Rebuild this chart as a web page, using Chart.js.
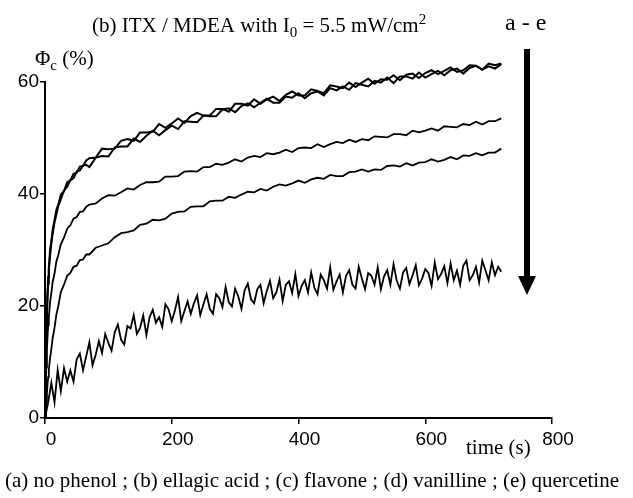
<!DOCTYPE html>
<html>
<head>
<meta charset="utf-8">
<script src="https://cdn.jsdelivr.net/npm/chart.js@4/dist/chart.umd.min.js"></script>
<style>
  html, body { margin: 0; padding: 0; background: #fff; }
  #wrap { width: 633px; height: 498px; position: relative; }
</style>
</head>
<body>
<div id="wrap"><canvas id="phiChart"></canvas></div>
<script>
// time axis (s) for curves a - d (dense at the start, then every 10 s)
const timeMain = [
  0, 1, 2, 3, 4, 5, 6, 8, 10, 12, 15, 18, 21, 25, 30, 35, 40, 45, 50, 55, 60, 65,
  70, 80, 90, 100, 110, 120, 130, 140, 150, 160, 170, 180, 190, 200, 210, 220,
  230, 240, 250, 260, 270, 280, 290, 300, 310, 320, 330, 340, 350, 360, 370, 380,
  390, 400, 410, 420, 430, 440, 450, 460, 470, 480, 490, 500, 510, 520, 530, 540,
  550, 560, 570, 580, 590, 600, 610, 620, 630, 640, 650, 660, 670, 680, 690, 700,
  710, 720
];

// (a) no phenol
const phiA = [
  0, 9, 15, 19.5, 22.5, 25.2, 26.8, 30, 31.6, 33.6, 35.3, 37.2, 38.1, 39.9, 40.5, 42.1, 42.4, 43.6, 43.8, 44.9, 45, 46,
  46.4, 46.5, 48.1, 48, 48.1, 49.5, 49.8, 49.5, 51, 51, 51.1, 52.5, 51.8, 52.6, 53.5, 52.7,
  53.9, 54.5, 54, 54, 55.2, 55.2, 54.7, 56.1, 56.1, 55.8, 56.9, 56.1, 56.9, 57.4, 56.6, 57.7,
  58.3, 57.6, 57.6, 58.7, 58.4, 58, 59.4, 59.2, 58.9, 59.9, 59.1, 59.9, 60.6, 59.7, 60.5, 60.4,
  61.2, 60.3, 61.3, 61.5, 60.7, 61.6, 62.1, 61.4, 62, 62.6, 61.8, 62.1, 63, 62.9, 62.2, 63.3,
  63, 63.3
];

// (b) ellagic acid
const phiB = [
  0, 7.5, 13.5, 18, 21.5, 24, 26.2, 29, 31.2, 32.8, 34.9, 36.4, 37.9, 39.1, 40.6, 41.3, 42.5, 42.8, 44, 44.2, 45.1, 45.2,
  44.8, 46.5, 46.8, 46.7, 48.3, 48.5, 48.5, 49.9, 49.3, 50.4, 51.3, 50.5, 51.4, 52.2, 51.6, 53,
  52.9, 52.8, 54, 53.9, 53.9, 55.1, 55.3, 54.6, 55.7, 56.2, 55.5, 56.3, 57, 56.3, 56.3, 57.4,
  57.2, 58, 57.1, 58, 58.3, 57.6, 58.9, 58.5, 59.2, 58.6, 59.8, 59.5, 59.2, 60.2, 59.9, 60.8,
  59.8, 61, 61, 60.6, 61.7, 60.8, 61.4, 62, 61.2, 62.1, 62.4, 61.5, 62.5, 62.9, 62.2, 62.8,
  62.4, 63.2
];

// (c) flavone
const phiC = [
  0, 5, 9, 12, 14.5, 16.6, 17.9, 20.7, 22.3, 24.2, 25.8, 28, 29.1, 31, 32.2, 33.8, 34.4, 35.6, 35.9, 36.8, 36.9, 37.7,
  38.1, 38.3, 39.2, 39.8, 39.7, 40.3, 41, 40.8, 41.6, 42.1, 42.1, 42.2, 43.1, 43.1, 43.2, 44,
  44.1, 44, 44.8, 44.8, 45.4, 45.2, 45.6, 46.2, 45.8, 46.5, 46.8, 46.6, 47.3, 47.1, 47.4, 47.9,
  47.5, 48.2, 48.3, 48.2, 48.9, 48.4, 48.9, 49.3, 49.1, 49.7, 49.3, 49.8, 49.6, 50.3, 50.2, 50.1,
  50.7, 50.7, 50.5, 51.3, 51, 51.3, 51.7, 51.3, 52.1, 52, 51.9, 52.5, 52.3, 52.9, 52.4, 53,
  53, 53.5
];

// (d) vanilline
const phiD = [
  0, 1.5, 3, 4.5, 6, 7.3, 8.5, 10.7, 12.3, 14.2, 16.1, 18.5, 20, 22.5, 23.8, 25.4, 25.9, 27, 27.2, 28.2, 28.3, 29.2,
  29.2, 30.4, 30.8, 31.2, 32.3, 33, 33.2, 33.5, 34.5, 34.7, 35.4, 35.3, 35.6, 36.5, 36.8, 36.9,
  37.7, 37.8, 37.8, 38.7, 38.8, 38.8, 39.5, 39.3, 39.9, 40.4, 40.3, 40.9, 40.6, 41.3, 41.7, 41.5,
  41.9, 42.4, 42, 42.6, 42.9, 42.7, 43.4, 43.2, 43.2, 43.9, 44, 44.4, 44, 44.4, 44.3, 45,
  45.1, 44.9, 45.5, 45.1, 45.6, 45.7, 46.2, 45.8, 46.1, 46.6, 46.2, 46.9, 46.8, 47.3, 46.9, 47.4,
  47.4, 48.1
];

// time axis (s) for curve e, which is much noisier (every 5 s)
const timeE = [
  0, 5, 10, 15, 20, 25, 30, 35, 40, 45, 50, 55,
  60, 65, 70, 75, 80, 85, 90, 95, 100, 105, 110, 115,
  120, 125, 130, 135, 140, 145, 150, 155, 160, 165, 170, 175,
  180, 185, 190, 195, 200, 205, 210, 215, 220, 225, 230, 235,
  240, 245, 250, 255, 260, 265, 270, 275, 280, 285, 290, 295,
  300, 305, 310, 315, 320, 325, 330, 335, 340, 345, 350, 355,
  360, 365, 370, 375, 380, 385, 390, 395, 400, 405, 410, 415,
  420, 425, 430, 435, 440, 445, 450, 455, 460, 465, 470, 475,
  480, 485, 490, 495, 500, 505, 510, 515, 520, 525, 530, 535,
  540, 545, 550, 555, 560, 565, 570, 575, 580, 585, 590, 595,
  600, 605, 610, 615, 620, 625, 630, 635, 640, 645, 650, 655,
  660, 665, 670, 675, 680, 685, 690, 695, 700, 705, 710, 715,
  720
];

// (e) quercetine
const phiE = [
  0, 2.8, 6.3, 2.8, 8.6, 4.8, 8.9, 6.5, 8.5, 6.5, 10.5, 11.5,
  8.5, 11, 13.5, 9.4, 11.3, 13.7, 11.6, 15, 13.4, 12, 15.3, 16.7,
  14, 13.1, 16.4, 16, 18.4, 15, 16.1, 18.3, 14.8, 18, 19.3, 17,
  18, 16.3, 20.3, 19.4, 17.3, 19.2, 21.6, 17.3, 19.1, 20.8, 18.6, 20.5,
  21.9, 18.4, 20.3, 22.1, 19.5, 18.6, 22.1, 21.4, 19.8, 23.4, 20.7, 19.9,
  23.1, 21.7, 19.5, 22.8, 24, 21.2, 20.5, 23, 23.8, 20.5, 22.7, 24.5,
  21.4, 22.4, 24.7, 20.9, 23.8, 24.4, 22.3, 25.7, 21.8, 23.6, 24.6, 22.4,
  26, 23.3, 22.1, 25.6, 24.6, 23.1, 26.9, 22.9, 24.4, 25.6, 22.4, 25.4,
  26.4, 23.8, 23.1, 27, 24.9, 23, 25.9, 25.4, 23.8, 26.9, 23, 25.3,
  26.4, 23.8, 27.5, 24.5, 23.1, 26, 26.8, 23.9, 25.5, 27.3, 23.7, 24.9,
  26.6, 25.9, 23.6, 27.8, 24.8, 25.7, 27.1, 24.1, 27.6, 24.6, 26.3, 23.8,
  27.2, 28.1, 24.6, 25.5, 27, 24.2, 28.1, 26.4, 24.6, 27.8, 25.5, 27,
  26.1
];

const seriesNames = ['a', 'b', 'c', 'd', 'e'];
const yTicks = [0, 20, 40, 60];
const xTicks = [0, 200, 400, 600, 800];

const SERIF = '"Liberation Serif", "Times New Roman", serif';
const SANS = '"Liberation Sans", Arial, sans-serif';

function toPoints(xs, ys) {
  return xs.map((x, i) => ({ x: x, y: ys[i] }));
}

// curves run above the 60 % tick in the original, so no clipping
const curveStyle = {
  borderColor: '#000',
  borderWidth: 2,
  pointRadius: 0,
  tension: 0,
  fill: false,
  clip: false
};

// Title, axis captions, legend line and the a -> e arrow are drawn on top
const decorations = {
  id: 'decorations',
  afterDraw(chart) {
    const ctx = chart.ctx;
    ctx.save();
    ctx.fillStyle = '#000';
    ctx.textAlign = 'left';
    ctx.textBaseline = 'alphabetic';

    // title with subscript and superscript
    let x = 92;
    ctx.font = '21px ' + SERIF;
    ctx.fillText('(b) ITX / MDEA with I', x, 32);
    x += ctx.measureText('(b) ITX / MDEA with I').width;
    ctx.font = '15px ' + SERIF;
    ctx.fillText('0', x, 37);
    x += ctx.measureText('0').width;
    ctx.font = '21px ' + SERIF;
    ctx.fillText(' = 5.5 mW/cm', x, 32);
    x += ctx.measureText(' = 5.5 mW/cm').width;
    ctx.font = '15px ' + SERIF;
    ctx.fillText('2', x, 24);

    ctx.font = '24px ' + SERIF;
    ctx.fillText('a - e', 505, 30);

    // y axis caption
    ctx.font = '21px ' + SERIF;
    ctx.fillText('\u03A6', 35, 65);
    let px = 35 + ctx.measureText('\u03A6').width;
    ctx.font = '15px ' + SERIF;
    ctx.fillText('c', px, 70);
    px += ctx.measureText('c').width;
    ctx.font = '21px ' + SERIF;
    ctx.fillText(' (%)', px, 65);

    // x axis caption
    ctx.font = '21px ' + SERIF;
    ctx.fillText('time (s)', 466, 454);

    // caption under the chart
    ctx.font = '21px ' + SERIF;
    ctx.fillText('(a) no phenol ; (b) ellagic acid ; (c) flavone ; (d) vanilline ; (e) quercetine', 5, 487);

    // arrow a -> e
    ctx.fillRect(524, 49, 6, 228);
    ctx.beginPath();
    ctx.moveTo(518, 276);
    ctx.lineTo(536, 276);
    ctx.lineTo(527, 295);
    ctx.closePath();
    ctx.fill();

    ctx.restore();
  }
};

const ctx = document.getElementById('phiChart');

new Chart(ctx, {
  type: 'line',
  data: {
    datasets: [
      { label: seriesNames[0], data: toPoints(timeMain, phiA), ...curveStyle },
      { label: seriesNames[1], data: toPoints(timeMain, phiB), ...curveStyle },
      { label: seriesNames[2], data: toPoints(timeMain, phiC), ...curveStyle, borderWidth: 1.8 },
      { label: seriesNames[3], data: toPoints(timeMain, phiD), ...curveStyle, borderWidth: 1.8 },
      { label: seriesNames[4], data: toPoints(timeE, phiE), ...curveStyle, borderWidth: 1.8 }
    ]
  },
  options: {
    responsive: true,
    maintainAspectRatio: false,
    animation: false,
    layout: {
      padding: { top: 82, right: 81, bottom: 0, left: 0 }
    },
    plugins: {
      legend: { display: false },
      tooltip: { enabled: false },
      title: { display: false }
    },
    scales: {
      x: {
        type: 'linear',
        min: 0,
        max: 800,
        afterFit: (scale) => { scale.height = 80; },
        afterBuildTicks: (scale) => { scale.ticks = xTicks.map(v => ({ value: v })); },
        border: { display: true, color: '#000', width: 2 },
        grid: { display: true, drawOnChartArea: false, drawTicks: true, tickLength: 6, color: '#000', lineWidth: 1.5 },
        ticks: { color: '#000', font: { family: SANS, size: 19 }, padding: 4, labelOffset: 6, maxRotation: 0 }
      },
      y: {
        min: 0,
        max: 60,
        afterFit: (scale) => { scale.width = 45; },
        afterBuildTicks: (scale) => { scale.ticks = yTicks.map(v => ({ value: v })); },
        border: { display: true, color: '#000', width: 2 },
        grid: { display: true, drawOnChartArea: false, drawTicks: true, tickLength: 5, color: '#000', lineWidth: 1.5 },
        ticks: { color: '#000', font: { family: SANS, size: 19 }, padding: 1 }
      }
    }
  },
  plugins: [decorations]
});
</script>
</body>
</html>
